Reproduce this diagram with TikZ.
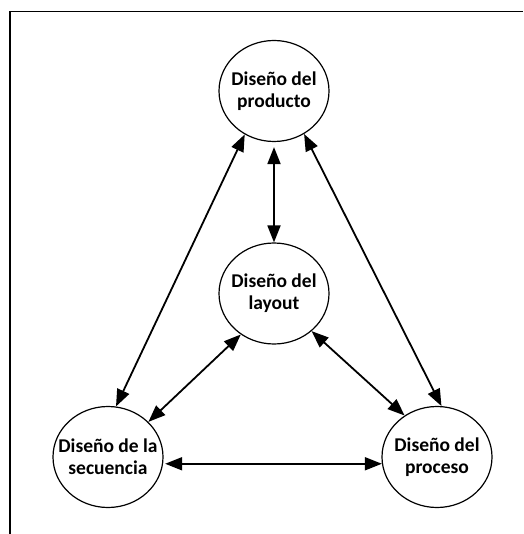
\documentclass[tikz,border=0pt]{standalone}
\usepackage{fontspec}
\setmainfont{Carlito}
\usetikzlibrary{shapes.geometric,arrows.meta}
\tikzset{
  bub/.style={ellipse,draw=black,line width=1.2pt,minimum width=110pt,minimum height=101pt,inner sep=0pt,fill=white},
  txt/.style={align=center,inner sep=0pt,font=\fontsize{19.5}{22}\selectfont\bfseries},
  link/.style={line width=1.8pt,{Triangle[length=17pt,width=13pt]}-{Triangle[length=17pt,width=13pt]}},
  frameline/.style={line width=1.5pt}
}
\begin{document}
\begin{tikzpicture}[x=1pt,y=-1pt]
\useasboundingbox (0,0) rectangle (523,534);
\fill[white] (0,0) rectangle (523,534);
\draw[frameline] (10,534) -- (10,11.5) -- (523,11.5);
\node[bub] (p) at (274,91) {};
\node[txt] (pt) at (p) {Diseño del\\producto};
\node[bub] (m) at (274,293.5) {};
\node[txt] (mt) at (m) {Diseño del\\layout};
\node[bub] (s) at (108,457) {};
\node[txt] (st) at (s) {Diseño de la\\secuencia};
\node[bub] (r) at (437,457) {};
\node[txt] (rt) at (r) {Diseño del\\proceso};
\draw[link] (p.236) -- (s.81);
\draw[link,shorten <=5pt] (p.-90) -- (m.90);
\draw[link] (p.-55) -- (r.85);
\draw[link] (m.231) -- (s.41);
\draw[link] (m.-45) -- (r.128);
\draw[link,shorten <=2pt] (s.-7) -- (r.187);
\end{tikzpicture}
\end{document}
